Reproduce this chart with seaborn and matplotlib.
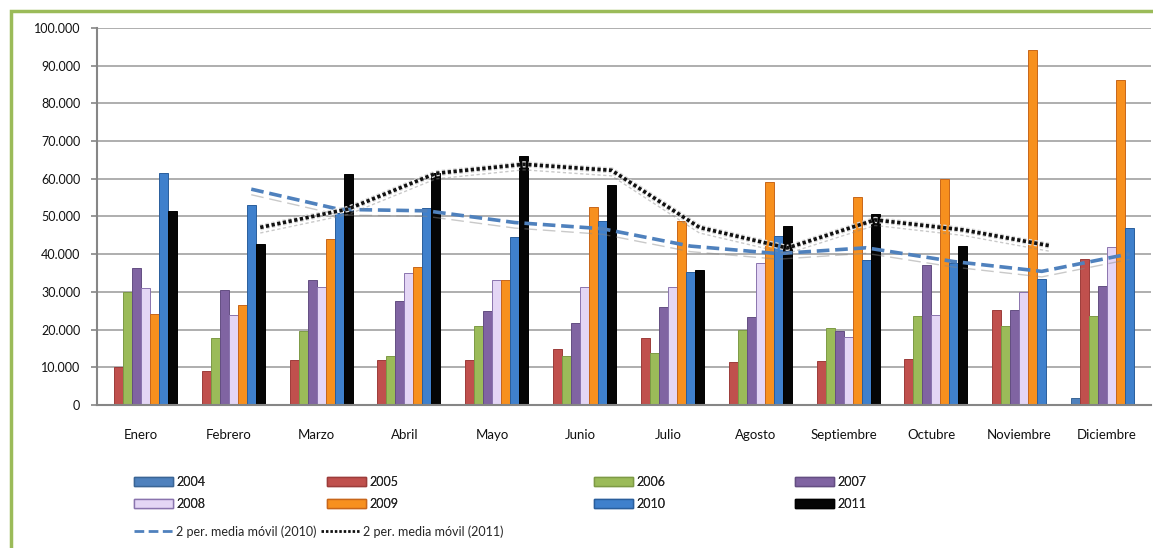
import numpy as np
import pandas as pd
import matplotlib
matplotlib.use("Agg")
import matplotlib.pyplot as plt
import matplotlib.patches as mpatches
import matplotlib.patheffects as pe
from matplotlib.lines import Line2D
import seaborn as sns

months = ["Enero", "Febrero", "Marzo", "Abril", "Mayo", "Junio", "Julio",
          "Agosto", "Septiembre", "Octubre", "Noviembre", "Diciembre"]
years = ["2004", "2005", "2006", "2007", "2008", "2009", "2010", "2011"]
nan = np.nan
v2004 = [nan, nan, nan, nan, nan, nan, nan, nan, nan, nan, nan, 1900]
v2005 = [10000, 9000, 11900, 11900, 11900, 14900, 17900, 11300, 11700, 12100, 25200, 38600]
v2006 = [30000, 17700, 19600, 13100, 21000, 13100, 13700, 19900, 20500, 23600, 21000, 23600]
v2007 = [36400, 30600, 33200, 27600, 24900, 21700, 25900, 23300, 19600, 37100, 25200, 31600]
v2008 = [31000, 23900, 31200, 35100, 33200, 31400, 31200, 37700, 18100, 24000, 29900, 42000]
v2009 = [24100, 26500, 44000, 36700, 33200, 52400, 48900, 59200, 55100, 59900, 94200, 86200]
v2010 = [61500, 53000, 50800, 52200, 44600, 48900, 35400, 44900, 38500, 37600, 33300, 46900]
v2011 = [51500, 42700, 61300, 61600, 66100, 58400, 35800, 47500, 50700, 42200, nan, nan]
ma_labels = ["2 per. media móvil (2010)", "2 per. media móvil (2011)"]

series = dict(zip(years, [v2004, v2005, v2006, v2007, v2008, v2009, v2010, v2011]))
df = pd.DataFrame([(m, y, series[y][i]) for y in years for i, m in enumerate(months)],
                  columns=["Mes", "Año", "Valor"])

colors = {"2004": "#4F81BD", "2005": "#C0504D", "2006": "#9BBB59", "2007": "#8064A2",
          "2008": "#E4D6F5", "2009": "#F7901E", "2010": "#3F80CC", "2011": "#050505"}
edges = {"2004": "#3A6595", "2005": "#9C3C3A", "2006": "#7D9A45", "2007": "#644E82",
         "2008": "#8A74AE", "2009": "#C8661A", "2010": "#2A5E9C", "2011": "#000000"}

sns.set_theme(style="white")
plt.rcParams["font.family"] = ["Lato", "DejaVu Sans"]

fig = plt.figure(figsize=(11.53, 5.48), dpi=100)
ax = fig.add_axes([97 / 1153, 1 - 405 / 548, 1054 / 1153, 377 / 548])

sns.barplot(data=df, x="Mes", y="Valor", hue="Año", order=months, hue_order=years,
            palette=colors, saturation=1, width=0.82, errorbar=None, ax=ax, zorder=2)

for y, cont in zip(years, ax.containers):
    for p in cont.patches:
        p.set_edgecolor(edges[y])
        p.set_linewidth(0.7)

handles, labels = ax.get_legend_handles_labels()
if ax.get_legend() is not None:
    ax.get_legend().remove()
hmap = dict(zip(labels, handles))
for y in years:
    hmap[y].set_edgecolor(edges[y])
    hmap[y].set_facecolor(colors[y])

# moving averages (2-period) drawn at the 2010 / 2011 bar positions
def bar_centers(year):
    cont = ax.containers[years.index(year)]
    res = {}
    for p in cont.patches:
        cx = p.get_x() + p.get_width() / 2
        if not np.isnan(p.get_height()):
            res[int(round(cx))] = cx
    return res

ma10 = pd.Series(v2010).rolling(2, min_periods=2).mean()
ma11 = pd.Series(v2011).rolling(2, min_periods=1).mean()
ma11[0] = nan
ma11[pd.Series(v2011).isna() & pd.Series(v2011).shift(1).isna()] = nan

c10 = bar_centers("2010")
c11 = bar_centers("2011")
x10 = [c10[i] for i in range(12) if not np.isnan(ma10[i]) and i in c10]
y10 = [ma10[i] for i in range(12) if not np.isnan(ma10[i]) and i in c10]
x11 = [c11.get(i, c10[i] + (c10[0] and (c11[0] - c10[0]))) for i in range(12) if not np.isnan(ma11[i])]
y11 = [ma11[i] for i in range(12) if not np.isnan(ma11[i])]

shadow = [pe.SimpleLineShadow(offset=(0, -4), shadow_color="#888888", alpha=0.45, linewidth=1),
          pe.Normal()]
ax.plot(x10, y10, color="#4F81BD", lw=2.6, ls=(0, (3.5, 1.6)), zorder=5, path_effects=shadow)
ax.plot(x11, y11, color="#111111", lw=2.6, ls=(0, (0.9, 0.7)), zorder=5,
        path_effects=[pe.Stroke(linewidth=4.5, foreground="#d8d8d8"),
                      pe.SimpleLineShadow(offset=(0, -4), shadow_color="#888888", alpha=0.45, linewidth=1),
                      pe.Normal()])

ax.set_xlim(-0.5, 11.5)
ax.set_ylim(0, 100000)
ax.set_yticks(np.arange(0, 100001, 10000))
ax.set_yticklabels([f"{int(v):,}".replace(",", ".") for v in np.arange(0, 100001, 10000)])
ax.set_xticks(range(12))
ax.set_xticklabels(months)
ax.set_xticks(np.arange(-0.5, 12, 1), minor=True)
ax.tick_params(axis="x", which="major", length=0, pad=17, labelsize=9.5, colors="#111111")
ax.tick_params(axis="x", which="minor", length=4, width=1.2, color="#868686", direction="out")
ax.tick_params(axis="y", length=4, width=1.2, color="#868686", direction="out", pad=8,
               labelsize=9, colors="#111111", left=True)
ax.set_xlabel("")
ax.set_ylabel("")
ax.grid(axis="y", color="#A8A8A8", lw=1.3, zorder=0)
ax.set_axisbelow(True)
for s in ["top", "right"]:
    ax.spines[s].set_visible(False)
for s in ["left", "bottom"]:
    ax.spines[s].set_color("#868686")
    ax.spines[s].set_linewidth(1.5)

# legends
col_x = [134, 327, 594, 795]
for j, cx in enumerate(col_x):
    hs = [hmap[years[j]], hmap[years[j + 4]]]
    leg = fig.legend(hs, [years[j], years[j + 4]], loc="upper left",
                     bbox_to_anchor=(cx / 1153, 1 - 476 / 548), frameon=False,
                     fontsize=9, handlelength=3.1, handleheight=0.75, handletextpad=0.3,
                     labelspacing=0.8, borderaxespad=0, borderpad=0)
    fig.add_artist(leg)

lh = [Line2D([], [], color="#4F81BD", lw=2, ls=(0, (3.5, 1.6))),
      Line2D([], [], color="#111111", lw=2, ls=(0, (0.9, 0.7)))]
fig.legend(lh, ma_labels, loc="upper left", bbox_to_anchor=(134 / 1153, 1 - 525 / 548),
           ncol=2, frameon=False, fontsize=9, handlelength=3.1, handletextpad=0.3,
           columnspacing=0.3, borderaxespad=0, borderpad=0)

border = mpatches.Rectangle((11 / 1153, -0.1), 1.2, 1 - 11 / 548 + 0.1, transform=fig.transFigure,
                            fill=False, edgecolor="#9BBB59", lw=2.5, clip_on=False)
fig.add_artist(border)

fig.savefig("out.png", dpi=100)
